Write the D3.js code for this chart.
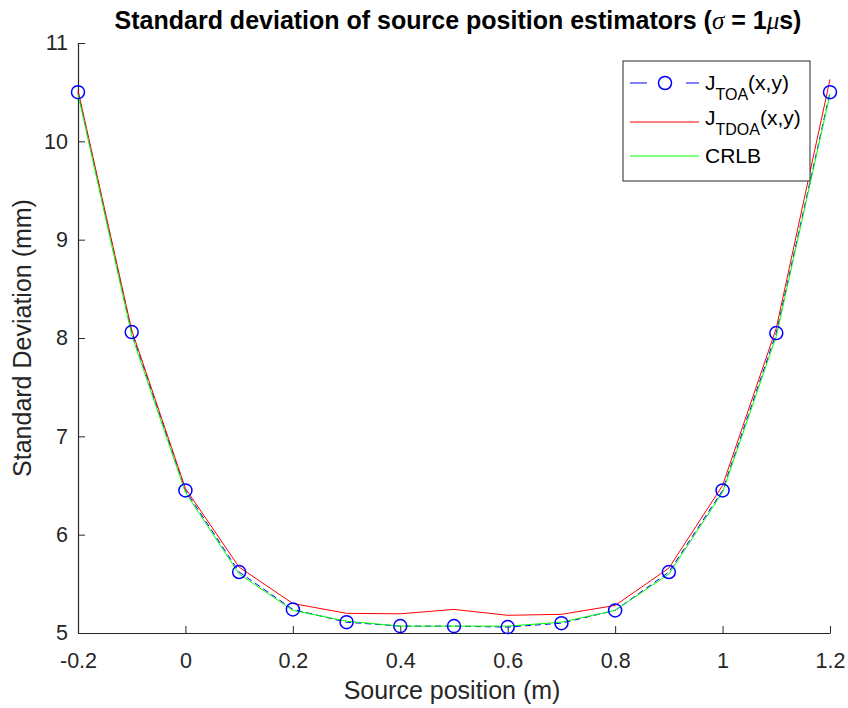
<!DOCTYPE html>
<html>
<head>
<meta charset="utf-8">
<script src="https://cdn.jsdelivr.net/npm/d3@7"></script>
<style>
  body { margin: 0; background: #fff; }
  text { font-family: "Liberation Sans", Arial, sans-serif; fill: #262626; }
</style>
</head>
<body>
<div id="chart"></div>
<script>
// --- data ---
const positions = [-0.2, -0.1, 0, 0.1, 0.2, 0.3, 0.4, 0.5, 0.6, 0.7, 0.8, 0.9, 1.0, 1.1, 1.2];
const toaValues = [10.5, 8.06, 6.45, 5.62, 5.24, 5.11, 5.07, 5.07, 5.06, 5.1, 5.23, 5.62, 6.45, 8.05, 10.5];
const tdoaValues = [10.52, 8.08, 6.47, 5.67, 5.3, 5.2, 5.195, 5.24, 5.18, 5.19, 5.28, 5.66, 6.5, 8.1, 10.63];
const crlbValues = [10.48, 8.03, 6.43, 5.6, 5.23, 5.12, 5.07, 5.07, 5.07, 5.11, 5.23, 5.6, 6.43, 8.02, 10.48];
const xTicks = [-0.2, 0, 0.2, 0.4, 0.6, 0.8, 1, 1.2];
const yTicks = [5, 6, 7, 8, 9, 10, 11];

const width = 848, height = 708;
const margin = { left: 78, right: 18, top: 43, bottom: 75 };

const svg = d3.select("#chart").append("svg")
  .attr("width", width)
  .attr("height", height);

const x = d3.scaleLinear().domain([-0.2, 1.2]).range([margin.left, width - margin.right]);
const y = d3.scaleLinear().domain([5, 11]).range([height - margin.bottom, margin.top]);

const axisColor = "#262626";
const fmt = d => String(+d.toFixed(1));

// axes (left + bottom only, inward ticks)
const xAxis = svg.append("g")
  .attr("transform", `translate(0, ${y(5)})`)
  .call(d3.axisBottom(x).tickValues(xTicks).tickSizeInner(-7).tickSizeOuter(0).tickPadding(20).tickFormat(fmt));
const yAxis = svg.append("g")
  .attr("transform", `translate(${x(-0.2)}, 0)`)
  .call(d3.axisLeft(y).tickValues(yTicks).tickSizeInner(-7).tickSizeOuter(0).tickPadding(10).tickFormat(fmt));

[xAxis, yAxis].forEach(a => {
  a.attr("font-family", null).attr("font-size", null);
  a.select(".domain").attr("stroke", axisColor).attr("stroke-width", 1.2);
  a.selectAll(".tick line").attr("stroke", axisColor);
  a.selectAll(".tick text").style("font-size", "21.5px").attr("fill", axisColor);
});

// lines
const line = (vals) => d3.line().x((d, i) => x(positions[i])).y(d => y(d))(vals);

svg.append("path").attr("d", line(toaValues))
  .attr("fill", "none").attr("stroke", "#0000ff").attr("stroke-width", 1)
  .attr("stroke-dasharray", "6,4");
svg.append("path").attr("d", line(tdoaValues))
  .attr("fill", "none").attr("stroke", "#ff0000").attr("stroke-width", 1);
svg.append("path").attr("d", line(crlbValues))
  .attr("fill", "none").attr("stroke", "#00ff00").attr("stroke-width", 1);

svg.selectAll(".marker").data(toaValues).enter().append("circle")
  .attr("class", "marker")
  .attr("cx", (d, i) => x(positions[i]))
  .attr("cy", d => y(d))
  .attr("r", 6.5)
  .attr("fill", "none").attr("stroke", "#0000ff").attr("stroke-width", 1.5);

// title
const title = svg.append("text")
  .attr("x", 458)
  .attr("y", 29)
  .attr("text-anchor", "middle")
  .style("font-size", "25px").style("font-weight", "bold")
  .style("fill", "#000");
title.append("tspan").text("Standard deviation of source position estimators (");
title.append("tspan").text("σ").style("font-style", "italic").style("font-weight", "normal")
  .style("font-family", "'Liberation Serif', serif");
title.append("tspan").text(" = 1");
title.append("tspan").text("μ").style("font-style", "italic").style("font-weight", "normal")
  .style("font-family", "'Liberation Serif', serif");
title.append("tspan").text("s)");

// axis labels
svg.append("text")
  .attr("x", 452).attr("y", 699)
  .attr("text-anchor", "middle").style("font-size", "25px")
  .text("Source position (m)");
svg.append("text")
  .attr("transform", `translate(31, ${(y(5) + y(11)) / 2}) rotate(-90)`)
  .attr("text-anchor", "middle").style("font-size", "25px")
  .text("Standard Deviation (mm)");

// legend
const legend = svg.append("g").attr("transform", "translate(623, 61)");
legend.append("rect").attr("width", 187).attr("height", 120)
  .attr("fill", "#fff").attr("stroke", axisColor).attr("stroke-width", 1);

const legendItems = [
  { name: "J", sub: "TOA", tail: "(x,y)", color: "#0000ff", dash: "17,39,13", marker: true, ly: 22, ty: 29 },
  { name: "J", sub: "TDOA", tail: "(x,y)", color: "#ff0000", dash: null, marker: false, ly: 61, ty: 64 },
  { name: "CRLB", sub: null, tail: "", color: "#00ff00", dash: null, marker: false, ly: 95, ty: 102 }
];
legendItems.forEach(it => {
  legend.append("line").attr("x1", 7).attr("x2", 76).attr("y1", it.ly).attr("y2", it.ly)
    .attr("stroke", it.color).attr("stroke-width", 1)
    .attr("stroke-dasharray", it.dash);
  if (it.marker) {
    legend.append("circle").attr("cx", 42).attr("cy", it.ly).attr("r", 6.5)
      .attr("fill", "#fff").attr("stroke", it.color).attr("stroke-width", 1.5);
  }
  const t = legend.append("text").attr("x", 82).attr("y", it.ty)
    .style("font-size", "21px").style("fill", "#000");
  t.append("tspan").text(it.name);
  if (it.sub) {
    t.append("tspan").text(it.sub).attr("dy", 10).style("font-size", "16px");
    t.append("tspan").text(it.tail).attr("dy", -10);
  }
});
</script>
</body>
</html>
